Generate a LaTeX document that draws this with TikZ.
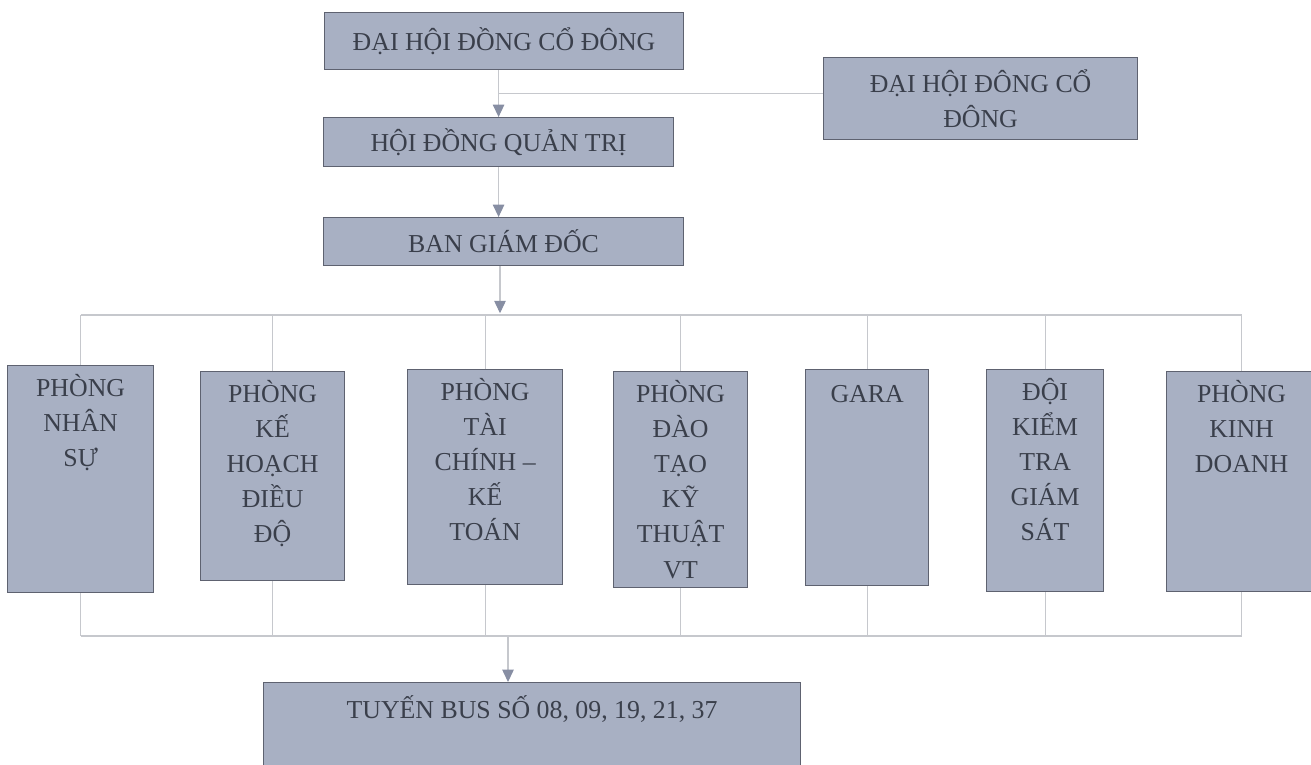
\documentclass[tikz,border=0pt]{standalone}
\usepackage{fontspec}
\setmainfont{Liberation Serif}
\usetikzlibrary{arrows.meta, positioning}

\definecolor{boxgray}{HTML}{A8B0C3}
\definecolor{edgegray}{HTML}{5E6270}
\definecolor{textgray}{HTML}{3A3F4B}
\definecolor{linegray}{HTML}{C6C8CD}
\definecolor{arrowgray}{HTML}{878EA3}

\begin{document}
\begin{tikzpicture}[
    x=0.02cm, y=-0.02cm,
    every node/.style={font=\fontsize{14.7}{20}\selectfont, text=textgray},
    box/.style={rectangle, draw=edgegray, fill=boxgray, line width=0.7pt, align=center, inner sep=0pt, anchor=north west},
    depttext/.style={anchor=north, align=center, inner sep=0pt, yshift=-5pt, execute at begin node=\strut},
    link/.style={draw=linegray, line width=0.6pt},
    arrow/.style={link, -{Triangle[length=7pt, width=6.5pt, color=arrowgray]}}
]
\useasboundingbox (0,0) rectangle (1311,764);

% upper levels
\node[box, minimum width=7.18cm, minimum height=1.14cm] (dhcd) at (324,12) {ĐẠI HỘI ĐỒNG CỔ ĐÔNG};
\node[box, minimum width=6.28cm, minimum height=1.64cm] (bks) at (823,57) {ĐẠI HỘI ĐÔNG CỔ\\ĐÔNG};
\node[box, minimum width=7.0cm, minimum height=0.98cm] (hdqt) at (323,117) {HỘI ĐỒNG QUẢN TRỊ};
\node[box, minimum width=7.2cm, minimum height=0.96cm] (bgd) at (323,217) {BAN GIÁM ĐỐC};

% departments
\node[box, minimum width=2.92cm, minimum height=4.54cm, label={[depttext]north:{PHÒNG\\NHÂN\\SỰ}}] (nhansu) at (7,365) {};
\node[box, minimum width=2.88cm, minimum height=4.18cm, label={[depttext]north:{PHÒNG\\KẾ\\HOẠCH\\ĐIỀU\\ĐỘ}}] (kehoach) at (200,371) {};
\node[box, minimum width=3.10cm, minimum height=4.30cm, label={[depttext]north:{PHÒNG\\TÀI\\CHÍNH –\\KẾ\\TOÁN}}] (taichinh) at (407,369) {};
\node[box, minimum width=2.68cm, minimum height=4.32cm, label={[depttext]north:{PHÒNG\\ĐÀO\\TẠO\\KỸ\\THUẬT\\VT}}] (daotao) at (613,371) {};
\node[box, minimum width=2.46cm, minimum height=4.32cm, label={[depttext]north:{GARA}}] (gara) at (805,369) {};
\node[box, minimum width=2.34cm, minimum height=4.44cm, label={[depttext]north:{ĐỘI\\KIỂM\\TRA\\GIÁM\\SÁT}}] (kiemtra) at (986,369) {};
\node[box, minimum width=3.0cm, minimum height=4.40cm, label={[depttext]north:{PHÒNG\\KINH\\DOANH}}] (kinhdoanh) at (1166,371) {};

% bus routes
\node[box, minimum width=10.74cm, minimum height=1.9cm, label={[depttext, yshift=-1.4pt]north:{TUYẾN BUS SỐ 08, 09, 19, 21, 37}}] (tuyen) at (263,682) {};

\coordinate (topbus) at (500,315);
\coordinate (botbus) at (508,636);

\draw[arrow] (dhcd.south -| hdqt.north) -- (hdqt.north);
\draw[link] ([yshift=0.1cm]bks.west) -- ([yshift=0.1cm]bks.west -| hdqt.north);
\draw[arrow] (hdqt.south) -- (hdqt.south |- bgd.north);
\draw[arrow] (bgd.south -| topbus) -- ([yshift=1pt]topbus);

\draw[link] (nhansu.north |- topbus) -- (kinhdoanh.north |- topbus);
\draw[link] (nhansu.south |- botbus) -- (kinhdoanh.south |- botbus);
\foreach \d in {nhansu, kehoach, taichinh, daotao, gara, kiemtra, kinhdoanh} {
  \draw[link] (\d.north) -- (\d.north |- topbus);
  \draw[link] (\d.south) -- (\d.south |- botbus);
}
\draw[arrow] (botbus) -- (botbus |- tuyen.north);

\end{tikzpicture}
\end{document}
